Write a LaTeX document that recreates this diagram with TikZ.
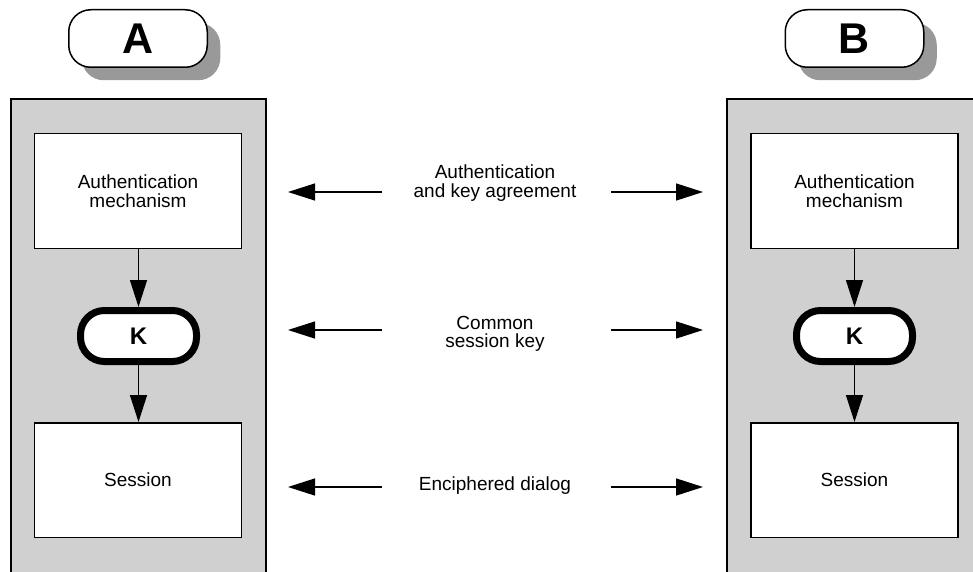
\documentclass[tikz,border=0pt]{standalone}
\usepackage{fontspec}
\setmainfont{Liberation Sans}
\usetikzlibrary{arrows.meta,shadows}
\definecolor{panelgray}{HTML}{D0D0D0}
\definecolor{shadowgray}{HTML}{999999}

\begin{document}
\begin{tikzpicture}[x=1pt,y=-1pt,
  panel/.style={draw=black, line width=1.2pt, fill=panelgray},
  stage/.style={draw=black, line width=1.5pt, fill=white,
    minimum width=207pt, minimum height=114.5pt, inner sep=0pt,
    align=center, font=\fontsize{19}{18.5}\selectfont},
  keynode/.style={draw=black, line width=7pt, fill=white, rounded corners=24pt,
    minimum width=116pt, minimum height=51pt, inner sep=0pt,
    font=\fontsize{24}{24}\selectfont\bfseries},
  party/.style={draw=black, line width=1.5pt, fill=white, rounded corners=22pt,
    minimum width=138.5pt, minimum height=57.5pt, inner sep=0pt,
    font=\fontsize{43}{43}\selectfont\bfseries,
    drop shadow={shadow xshift=13pt, shadow yshift=-13pt, fill=shadowgray, opacity=1}},
  flow/.style={-{Triangle[length=27pt,width=17pt]}, line width=1.4pt},
  caption/.style={align=center, font=\fontsize{19}{18.5}\selectfont}
]
\useasboundingbox (0,0) rectangle (973,572);
\clip (0,0) rectangle (973,572);

% the two parties
\node[party] (labA) at (138,38.5) {A};
\node[party] (labB) at (854.5,38.5) {B};

% grey containers
\draw[panel] (11,99) rectangle (266,600);
\draw[panel] (727,99) rectangle (990,600);

% party A
\node[stage] (authA) at (138,191) {Authentication\\mechanism};
\node[keynode] (keyA) at (138.5,336) {K};
\node[stage] (sessA) at (138,480) {Session};
\draw[flow] (authA.south -| keyA) -- (keyA.north);
\draw[flow] (keyA.south) -- (sessA.north -| keyA);

% party B
\node[stage] (authB) at (854.5,191) {Authentication\\mechanism};
\node[keynode] (keyB) at (854.5,336) {K};
\node[stage] (sessB) at (854.5,480) {Session};
\draw[flow] (authB.south -| keyB) -- (keyB.north);
\draw[flow] (keyB.south) -- (sessB.north -| keyB);

% exchanges between the parties
\node[caption] (capAuth) at (495,183) {Authentication\\and key agreement};
\node[caption] (capKey) at (495,334) {Common\\session key};
\node[caption] (capDlg) at (495,486) {Enciphered dialog};

\foreach \row/\y in {auth/192, key/330, dlg/487} {
  \coordinate (\row L) at (382,\y);
  \coordinate (\row Ltip) at (288,\y);
  \coordinate (\row R) at (611,\y);
  \coordinate (\row Rtip) at (703,\y);
  \draw[flow] (\row L) -- (\row Ltip);
  \draw[flow] (\row R) -- (\row Rtip);
}
\end{tikzpicture}
\end{document}
